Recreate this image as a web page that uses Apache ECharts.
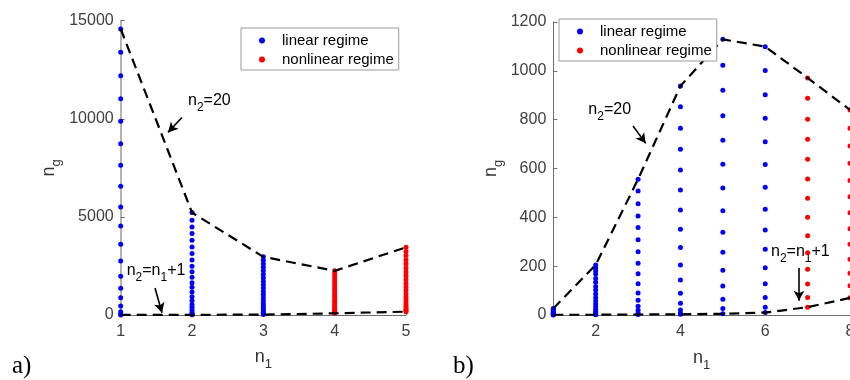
<!DOCTYPE html>
<html>
<head>
<meta charset="utf-8">
<script src="https://cdn.jsdelivr.net/npm/echarts@6/dist/echarts.min.js"></script>
<style>
  html, body { margin: 0; padding: 0; background: #fff; }
  #chart { width: 850px; height: 380px; }
</style>
</head>
<body>
<div id="chart"></div>
<script>
// values, one array per n1 column

// panel a)
const n1A = [1, 2, 3, 4, 5]
const colA1 = [14580, 13390, 12200, 11020, 9880, 8730, 7630, 6560, 5510, 4530, 3600, 2750, 1980, 1360, 880, 460, 170, 50, 5]
const colA2 = [5220, 4830, 4490, 4150, 3810, 3470, 3140, 2800, 2490, 2200, 1920, 1640, 1410, 1170, 930, 730, 540, 390, 250, 140, 50, 10]
const colA3 = [2965, 2790, 2610, 2430, 2250, 2070, 1890, 1710, 1540, 1370, 1200, 1040, 880, 730, 590, 460, 340, 230, 140, 70, 20]
const colA4 = [2250, 2100, 1950, 1800, 1650, 1505, 1360, 1220, 1085, 950, 820, 700, 585, 475, 375, 285, 205, 140, 85]
const colA5 = [3450, 3240, 3030, 2820, 2610, 2400, 2195, 1995, 1800, 1610, 1425, 1245, 1075, 915, 765, 625, 500, 390, 295, 225, 170]
const upperA = [14580, 5220, 2965, 2250, 3450]
const lowerA = [5, 10, 20, 85, 170]
const yTicksA = [0, 5000, 10000, 15000]

// panel b)
const n1B = [1, 2, 3, 4, 5, 6, 7, 8]
const colB1 = [27, 22, 17, 13, 9, 6, 4, 2, 1, 0]
const colB2 = [205, 192, 180, 168, 150, 134, 117, 102, 86, 71, 57, 45, 34, 23, 14, 7, 3, 1]
const colB3 = [556, 508, 456, 405, 358, 308, 259, 212, 169, 128, 90, 60, 36, 19, 7, 2]
const colB4 = [938, 853, 765, 679, 594, 512, 430, 351, 276, 205, 143, 89, 48, 20, 7, 3]
const colB5 = [1129, 1023, 920, 816, 716, 617, 520, 427, 339, 257, 183, 119, 64, 27, 5]
const colB6 = [1099, 1001, 902, 806, 710, 616, 523, 433, 348, 269, 194, 128, 72, 32, 10]
const colB7 = [971, 888, 802, 720, 638, 557, 478, 400, 325, 255, 187, 127, 72, 32]
const colB8 = [840, 765, 692, 621, 551, 484, 419, 353, 290, 228, 171, 120, 71]
const upperB = [27, 205, 556, 938, 1129, 1099, 971, 840]
const lowerB = [1, 1, 2, 3, 5, 10, 32, 70]
const xTicksB = [2, 4, 6, 8]

const legendNames = ['linear regime', 'nonlinear regime']

// annotations: text anchor (left / middle of text) and arrow in data coords
const notes = [
  { grid: 0, text: '{m|n}{s|2}{m|=20}', at: [1.944, 10930], arrow: [[1.859, 10068], [1.663, 9306]] },
  { grid: 0, text: '{m|n}{s|2}{m|=n}{s|1}{m|+1}', at: [1.084, 2240], arrow: [[1.481, 1373], [1.579, 110]] },
  { grid: 1, text: '{m|n}{s|2}{m|=20}', at: [1.826, 840], arrow: [[2.881, 774], [3.18, 703]] },
  { grid: 1, text: '{m|n}{s|2}{m|=n}{s|1}{m|+1}', at: [6.137, 258], arrow: [[6.797, 193], [6.797, 58]] }
]

const FONT = '"Liberation Sans", Arial, sans-serif'
const TICK_COLOR = '#404040'

const column = (n1, values) => values.map(v => [n1, v])
const curve = (xs, ys) => xs.map((x, i) => [x, ys[i]])
const plain = v => String(v)

const nameRich = {
  m: { fontSize: 18, fontFamily: FONT, color: '#333' },
  s: { fontSize: 13, fontFamily: FONT, color: '#333', padding: [15, 0, 0, 0] }
}

function xAxisCfg(gridIndex, min, max, extra) {
  return Object.assign({
    gridIndex,
    type: 'value',
    min,
    max,
    name: '{m|n}{s|1}',
    nameLocation: 'middle',
    nameGap: 28,
    nameTextStyle: { rich: nameRich },
    axisLine: { onZero: false, lineStyle: { color: '#6e6e6e', width: 1 } },
    axisTick: { inside: true, length: 4, lineStyle: { color: '#6e6e6e' } },
    axisLabel: { color: TICK_COLOR, fontSize: 16, fontFamily: FONT, margin: 9, formatter: plain },
    splitLine: { show: false }
  }, extra)
}

function yAxisCfg(gridIndex, max, interval, nameGap, lineColor, lineWidth) {
  return {
    gridIndex,
    type: 'value',
    min: 0,
    max,
    interval,
    name: '{m|n}{s|g}',
    nameLocation: 'middle',
    nameGap,
    nameTextStyle: { rich: nameRich },
    axisLine: { onZero: false, lineStyle: { color: lineColor, width: lineWidth } },
    axisTick: { inside: true, length: 4, lineStyle: { color: '#6e6e6e' } },
    axisLabel: { color: TICK_COLOR, fontSize: 16, fontFamily: FONT, margin: 7, formatter: plain },
    splitLine: { show: false }
  }
}

function dots(name, color, idx, data) {
  return {
    name,
    type: 'scatter',
    xAxisIndex: idx,
    yAxisIndex: idx,
    data,
    symbol: 'circle',
    symbolSize: 5,
    itemStyle: { color, opacity: 1 },
    z: 2
  }
}

function dashed(idx, data, arrows) {
  const s = {
    type: 'line',
    xAxisIndex: idx,
    yAxisIndex: idx,
    data,
    showSymbol: false,
    symbol: 'none',
    lineStyle: { color: '#000', width: 2.2, type: [10, 6] },
    silent: true,
    z: 3
  }
  if (arrows) {
    s.markLine = {
      silent: true,
      symbol: ['none', 'arrow'],
      symbolSize: [8, 10],
      label: { show: false },
      lineStyle: { color: '#000', width: 1.6, type: 'solid' },
      data: arrows.map(a => [{ coord: a[0] }, { coord: a[1] }])
    }
  }
  return s
}

function legendCfg(left, top) {
  return {
    data: legendNames,
    left,
    top,
    orient: 'vertical',
    selectedMode: false,
    icon: 'circle',
    itemWidth: 6,
    itemHeight: 6,
    itemGap: 0,
    padding: [3, 5, 1, 18],
    backgroundColor: '#fff',
    borderColor: '#9a9a9a',
    borderWidth: 1,
    borderRadius: 0,
    textStyle: { fontSize: 15, fontFamily: FONT, color: '#000', lineHeight: 19, padding: [0, 0, 0, 12] }
  }
}

const arrowsA = notes.filter(n => n.grid === 0).map(n => n.arrow)
const arrowsB = notes.filter(n => n.grid === 1).map(n => n.arrow)

const chart = echarts.init(document.getElementById('chart'))

const option = {
  animation: false,
  backgroundColor: '#fff',
  grid: [
    { left: 120.7, top: 20.7, width: 285.3, height: 294.3, outerBoundsMode: 'none' },
    { left: 553.3, top: 22, width: 296.7, height: 293, outerBoundsMode: 'none' }
  ],
  legend: [legendCfg(241, 28), legendCfg(559, 19)],
  xAxis: [
    xAxisCfg(0, 1, 5, { interval: 1 }),
    xAxisCfg(1, 1, 8, {
      nameGap: 29,
      axisTick: { inside: true, length: 4, lineStyle: { color: '#6e6e6e' }, customValues: xTicksB },
      axisLabel: { color: TICK_COLOR, fontSize: 16, fontFamily: FONT, margin: 9, customValues: xTicksB, formatter: plain }
    })
  ],
  yAxis: [
    yAxisCfg(0, yTicksA[yTicksA.length - 1], yTicksA[1] - yTicksA[0], 58, '#b4b4b4', 2),
    yAxisCfg(1, 1200, 200, 48, '#6e6e6e', 1)
  ],
  series: [
    dots('linear regime', '#0000ff', 0, [...column(1, colA1), ...column(2, colA2), ...column(3, colA3)]),
    dots('nonlinear regime', '#ff0000', 0, [...column(4, colA4), ...column(5, colA5)]),
    dashed(0, curve(n1A, upperA), arrowsA),
    dashed(0, curve(n1A, lowerA)),
    dots('linear regime', '#0000ff', 1, [
      ...column(1, colB1), ...column(2, colB2), ...column(3, colB3),
      ...column(4, colB4), ...column(5, colB5), ...column(6, colB6)
    ]),
    dots('nonlinear regime', '#ff0000', 1, [...column(7, colB7), ...column(8, colB8)]),
    dashed(1, curve(n1B, upperB), arrowsB),
    dashed(1, curve(n1B, lowerB))
  ]
}

chart.setOption(option)

// annotation texts placed from data coords
const noteRich = {
  m: { fontSize: 16, fontFamily: FONT, fill: '#000' },
  s: { fontSize: 12, fontFamily: FONT, fill: '#000', padding: [14, 0, 0, 0] }
}
const noteTexts = notes.map(n => {
  const [x, y] = chart.convertToPixel({ gridIndex: n.grid }, n.at)
  return {
    type: 'text',
    x,
    y,
    silent: true,
    style: { text: n.text, rich: noteRich, align: 'left', verticalAlign: 'middle' }
  }
})

chart.setOption({
  graphic: [
    { type: 'text', left: 12, top: 354, style: { text: 'a)', font: '25px "Liberation Serif", serif', fill: '#000' } },
    { type: 'text', left: 453, top: 354, style: { text: 'b)', font: '25px "Liberation Serif", serif', fill: '#000' } },
    ...noteTexts
  ]
})
</script>
</body>
</html>
